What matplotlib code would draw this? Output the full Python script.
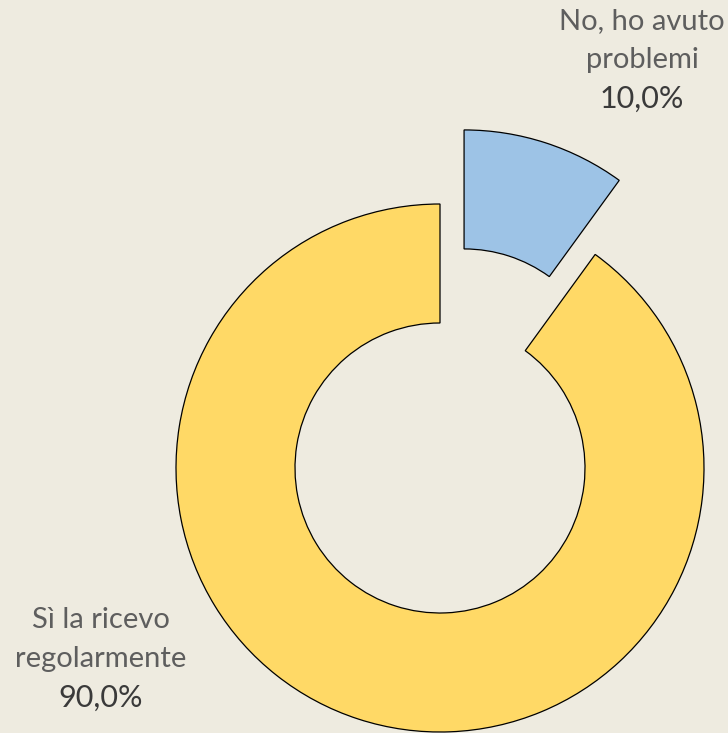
#!/usr/bin/env python3
import matplotlib
matplotlib.use('Agg')
import matplotlib.pyplot as plt

# dati
labels = ["Sì la ricevo\nregolarmente", "No, ho avuto\nproblemi"]
values = [90.0, 10.0]
pct_labels = ["90,0%", "10,0%"]
colors = ["#FFD966", "#9DC3E6"]

bg = "#EEEBE0"
W, H = 728, 733
R = 264.0        # outer radius in px
cx, cy = 440, 468  # donut centre (px, from top)

fig = plt.figure(figsize=(W / 100, H / 100), dpi=100, facecolor=bg)
ax = fig.add_axes([0, 0, 1, 1])
ax.set_facecolor(bg)

# clockwise from 12 o'clock, blue slice first so it sits top right
ax.pie(values[::-1], colors=colors[::-1], startangle=90, counterclock=False,
       radius=1.0, explode=[0.295, 0.0],
       wedgeprops=dict(width=1 - 145 / R, edgecolor="black", linewidth=0.9))

# map pixel coords into data units
ax.set_xlim(-cx / R, (W - cx) / R)
ax.set_ylim(-(H - cy) / R, cy / R)
ax.set_aspect('equal')
ax.axis('off')


def px(x, y):
    return (x - cx) / R, (cy - y) / R


name_style = dict(family=["Lato", "DejaVu Sans"], fontweight="normal", fontsize=21,
                  color="#5E5E5E", ha="center", va="baseline")
pct_style = dict(family=["Lato", "DejaVu Sans"], fontsize=22,
                 color="#3A3A3A", ha="center", va="baseline")

# label positions (centre x, first baseline y), px
label_pos = [(101, 628), (642, 29)]
for lab, pct, (lx, ly) in zip(labels, pct_labels, label_pos):
    lines = lab.split("\n")
    for i, line in enumerate(lines):
        ax.text(*px(lx, ly + 39 * i), line, **name_style)
    ax.text(*px(lx, ly + 39 * len(lines) + 1), pct, **pct_style)

fig.savefig("out.png", dpi=100, facecolor=bg)
